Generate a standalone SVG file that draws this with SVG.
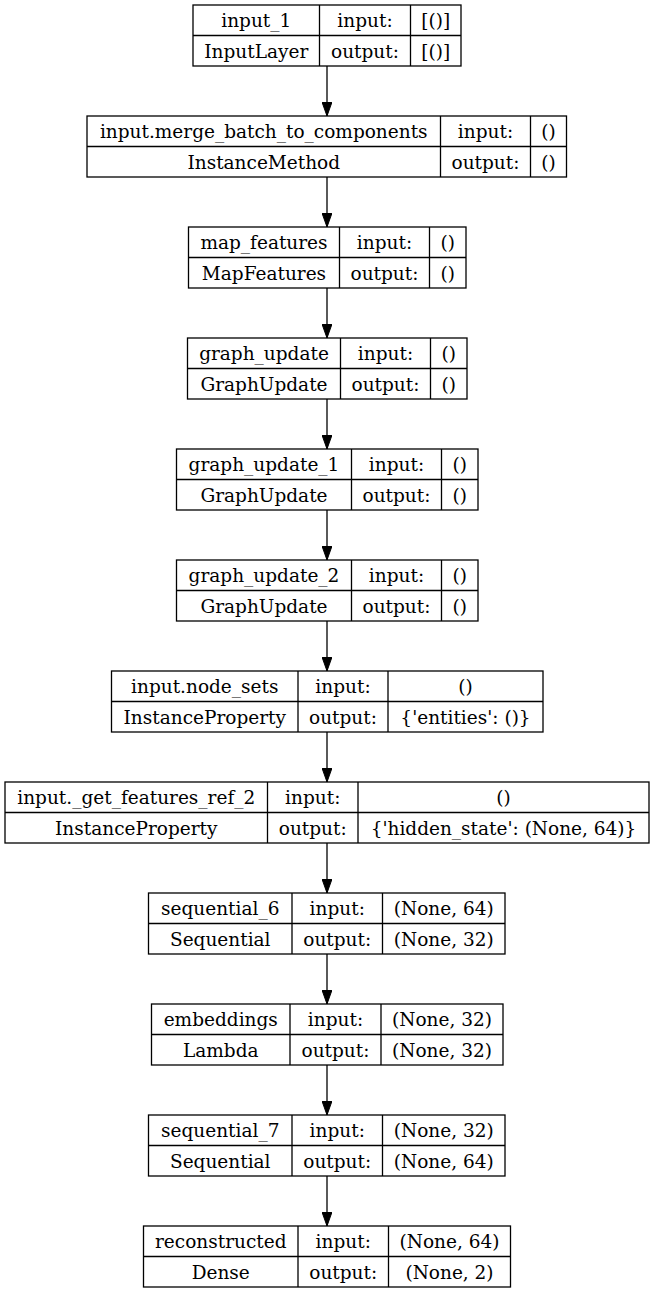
<svg xmlns="http://www.w3.org/2000/svg" width="655" height="1291" viewBox="0 0 655 1291">
<style>
.b{fill:none;stroke:#000;stroke-width:1.3}
text{font-family:"DejaVu Serif","Liberation Serif",serif;font-size:18.5px;fill:#000;text-anchor:middle}
.e{stroke:#000;stroke-width:1.3;fill:none}
</style>
<defs>
<marker id="ah" markerUnits="userSpaceOnUse" markerWidth="14" markerHeight="10" refX="14" refY="5" orient="auto">
<path d="M0,0 L14,5 L0,10 z" fill="#000" stroke="#000" stroke-width="1"/>
</marker>
</defs>
<rect width="655" height="1291" fill="#fff"/>
<g id="connectors">
<line class="e" x1="327" y1="66" x2="327" y2="116" marker-end="url(#ah)"/>
<line class="e" x1="327" y1="177" x2="327" y2="227" marker-end="url(#ah)"/>
<line class="e" x1="327" y1="288" x2="327" y2="338" marker-end="url(#ah)"/>
<line class="e" x1="327" y1="399" x2="327" y2="449" marker-end="url(#ah)"/>
<line class="e" x1="327" y1="510" x2="327" y2="560" marker-end="url(#ah)"/>
<line class="e" x1="327" y1="621" x2="327" y2="671" marker-end="url(#ah)"/>
<line class="e" x1="327" y1="732" x2="327" y2="782" marker-end="url(#ah)"/>
<line class="e" x1="327" y1="843" x2="327" y2="893" marker-end="url(#ah)"/>
<line class="e" x1="327" y1="954" x2="327" y2="1004" marker-end="url(#ah)"/>
<line class="e" x1="327" y1="1065" x2="327" y2="1115" marker-end="url(#ah)"/>
<line class="e" x1="327" y1="1176" x2="327" y2="1226" marker-end="url(#ah)"/>
</g>
<g id="input_1">
<rect class="b" x="193" y="5" width="268" height="61"/>
<path class="b" d="M193,35.5H461M319.5,5V66M410.5,5V66"/>
<text x="256.25" y="27">input_1</text><text x="256.25" y="57.5">InputLayer</text>
<text x="365" y="27">input:</text><text x="365" y="57.5">output:</text>
<text x="435.75" y="27">[()]</text><text x="435.75" y="57.5">[()]</text>
</g>
<g id="merge_batch_to_components">
<rect class="b" x="87" y="116" width="479.5" height="61"/>
<path class="b" d="M87,146.5H566.5M440.5,116V177M530.5,116V177"/>
<text x="263.75" y="138">input.merge_batch_to_components</text><text x="263.75" y="168.5">InstanceMethod</text>
<text x="485.5" y="138">input:</text><text x="485.5" y="168.5">output:</text>
<text x="548.5" y="138">()</text><text x="548.5" y="168.5">()</text>
</g>
<g id="map_features">
<rect class="b" x="188.5" y="227" width="277.5" height="61"/>
<path class="b" d="M188.5,257.5H466M339.5,227V288M429.5,227V288"/>
<text x="264" y="249">map_features</text><text x="264" y="279.5">MapFeatures</text>
<text x="384.5" y="249">input:</text><text x="384.5" y="279.5">output:</text>
<text x="447.75" y="249">()</text><text x="447.75" y="279.5">()</text>
</g>
<g id="graph_update">
<rect class="b" x="187.5" y="338" width="279.5" height="61"/>
<path class="b" d="M187.5,368.5H467M340.5,338V399M430.5,338V399"/>
<text x="264" y="360">graph_update</text><text x="264" y="390.5">GraphUpdate</text>
<text x="385.5" y="360">input:</text><text x="385.5" y="390.5">output:</text>
<text x="448.75" y="360">()</text><text x="448.75" y="390.5">()</text>
</g>
<g id="graph_update_1">
<rect class="b" x="176.5" y="449" width="301.5" height="61"/>
<path class="b" d="M176.5,479.5H478M351.5,449V510M441.5,449V510"/>
<text x="264" y="471">graph_update_1</text><text x="264" y="501.5">GraphUpdate</text>
<text x="396.5" y="471">input:</text><text x="396.5" y="501.5">output:</text>
<text x="459.75" y="471">()</text><text x="459.75" y="501.5">()</text>
</g>
<g id="graph_update_2">
<rect class="b" x="176.5" y="560" width="301.5" height="61"/>
<path class="b" d="M176.5,590.5H478M351.5,560V621M441.5,560V621"/>
<text x="264" y="582">graph_update_2</text><text x="264" y="612.5">GraphUpdate</text>
<text x="396.5" y="582">input:</text><text x="396.5" y="612.5">output:</text>
<text x="459.75" y="582">()</text><text x="459.75" y="612.5">()</text>
</g>
<g id="node_sets">
<rect class="b" x="111.5" y="671" width="431.5" height="61"/>
<path class="b" d="M111.5,701.5H543M298,671V732M388,671V732"/>
<text x="204.75" y="693">input.node_sets</text><text x="204.75" y="723.5">InstanceProperty</text>
<text x="343" y="693">input:</text><text x="343" y="723.5">output:</text>
<text x="465.5" y="693">()</text><text x="465.5" y="723.5">{'entities': ()}</text>
</g>
<g id="get_features_ref_2">
<rect class="b" x="5" y="782" width="644" height="61"/>
<path class="b" d="M5,812.5H649M267.5,782V843M358,782V843"/>
<text x="136.25" y="804">input._get_features_ref_2</text><text x="136.25" y="834.5">InstanceProperty</text>
<text x="312.75" y="804">input:</text><text x="312.75" y="834.5">output:</text>
<text x="503.5" y="804">()</text><text x="503.5" y="834.5">{'hidden_state': (None, 64)}</text>
</g>
<g id="sequential_6">
<rect class="b" x="148.5" y="893" width="356.5" height="61"/>
<path class="b" d="M148.5,923.5H505M292,893V954M382.5,893V954"/>
<text x="220.25" y="915">sequential_6</text><text x="220.25" y="945.5">Sequential</text>
<text x="337.25" y="915">input:</text><text x="337.25" y="945.5">output:</text>
<text x="443.75" y="915">(None, 64)</text><text x="443.75" y="945.5">(None, 32)</text>
</g>
<g id="embeddings">
<rect class="b" x="151.5" y="1004" width="351.5" height="61"/>
<path class="b" d="M151.5,1034.5H503M290,1004V1065M381,1004V1065"/>
<text x="220.75" y="1026">embeddings</text><text x="220.75" y="1056.5">Lambda</text>
<text x="335.5" y="1026">input:</text><text x="335.5" y="1056.5">output:</text>
<text x="442" y="1026">(None, 32)</text><text x="442" y="1056.5">(None, 32)</text>
</g>
<g id="sequential_7">
<rect class="b" x="148.5" y="1115" width="356.5" height="61"/>
<path class="b" d="M148.5,1145.5H505M292,1115V1176M382.5,1115V1176"/>
<text x="220.25" y="1137">sequential_7</text><text x="220.25" y="1167.5">Sequential</text>
<text x="337.25" y="1137">input:</text><text x="337.25" y="1167.5">output:</text>
<text x="443.75" y="1137">(None, 32)</text><text x="443.75" y="1167.5">(None, 64)</text>
</g>
<g id="reconstructed">
<rect class="b" x="143.5" y="1226" width="367" height="61"/>
<path class="b" d="M143.5,1256.5H510.5M298,1226V1287M388.5,1226V1287"/>
<text x="220.75" y="1248">reconstructed</text><text x="220.75" y="1278.5">Dense</text>
<text x="343.25" y="1248">input:</text><text x="343.25" y="1278.5">output:</text>
<text x="449.5" y="1248">(None, 64)</text><text x="449.5" y="1278.5">(None, 2)</text>
</g>
</svg>
